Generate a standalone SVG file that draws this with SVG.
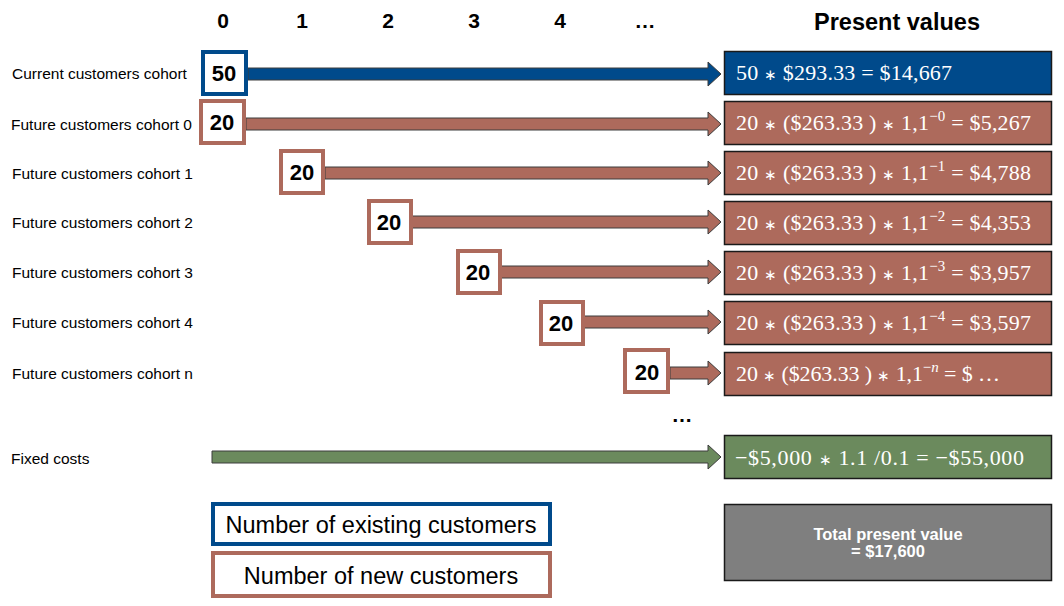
<svg xmlns="http://www.w3.org/2000/svg" width="1064" height="606" viewBox="0 0 1064 606">
<style>
.hdr{font-family:"Liberation Sans",Arial,sans-serif;font-weight:bold;font-size:21px;fill:#000;text-anchor:middle}
.lbl{font-family:"Liberation Sans",Arial,sans-serif;font-size:15.5px;fill:#000}
.num{font-family:"Liberation Sans",Arial,sans-serif;font-weight:bold;font-size:22px;fill:#000;text-anchor:middle}
.sb{fill:#fff;stroke-width:4}
.blue{stroke:#004a8b}
.brown{stroke:#ad6a5c}
.pv{stroke:#1a1a1a;stroke-width:1.5}
.f{font-family:"Liberation Serif","Times New Roman",serif;font-size:22px;fill:#fff}
.sup{font-size:15px}
.ast{font-size:15px}
.arr{stroke:#3c3c3c;stroke-width:1}
.leg{font-family:"Liberation Sans",Arial,sans-serif;font-size:23.5px;fill:#000;text-anchor:middle}
.tot{font-family:"Liberation Sans",Arial,sans-serif;font-weight:bold;font-size:16.5px;fill:#fff;text-anchor:middle}
</style>

<g id="header">
<text class="hdr" x="223" y="28">0</text>
<text class="hdr" x="302" y="28">1</text>
<text class="hdr" x="388" y="28">2</text>
<text class="hdr" x="474" y="28">3</text>
<text class="hdr" x="560" y="28">4</text>
<text class="hdr" x="645" y="28">…</text>
<text class="hdr" x="897" y="30" style="font-size:23.5px">Present values</text>
</g>

<g id="row-labels">
<text class="lbl" x="12" y="79">Current customers cohort</text>
<text class="lbl" x="11" y="130">Future customers cohort 0</text>
<text class="lbl" x="12" y="179">Future customers cohort 1</text>
<text class="lbl" x="12" y="228">Future customers cohort 2</text>
<text class="lbl" x="12" y="278">Future customers cohort 3</text>
<text class="lbl" x="12" y="328">Future customers cohort 4</text>
<text class="lbl" x="12" y="379">Future customers cohort n</text>
<text class="lbl" x="11" y="464">Fixed costs</text>
</g>

<g id="connectors">
<path class="arr" fill="#004a8b" d="M248 68 H708 V62 L721 74 L708 86 V80 H248 Z"/>
<path class="arr" fill="#ad6a5c" d="M246 118 H708 V112 L721 124 L708 136 V130 H246 Z"/>
<path class="arr" fill="#ad6a5c" d="M325 167 H708 V161 L721 173 L708 185 V179 H325 Z"/>
<path class="arr" fill="#ad6a5c" d="M411 216 H708 V210 L721 222 L708 234 V228 H411 Z"/>
<path class="arr" fill="#ad6a5c" d="M500 266 H708 V260 L721 272 L708 284 V278 H500 Z"/>
<path class="arr" fill="#ad6a5c" d="M583 316 H708 V310 L721 322 L708 334 V328 H583 Z"/>
<path class="arr" fill="#ad6a5c" d="M670 367 H708 V361 L721 373 L708 385 V379 H670 Z"/>
<path class="arr" fill="#6b8a5d" d="M212 451 H708 V445 L721 457 L708 469 V463 H212 Z"/>
</g>

<g id="n-current">
<rect class="sb blue" x="203" y="52" width="43" height="42"/>
<text class="num" x="224" y="81">50</text>
</g>
<g id="n-cohort0">
<rect class="sb brown" x="201" y="101" width="43" height="42"/>
<text class="num" x="222" y="130">20</text>
</g>
<g id="n-cohort1">
<rect class="sb brown" x="281" y="151" width="42" height="42"/>
<text class="num" x="302" y="180">20</text>
</g>
<g id="n-cohort2">
<rect class="sb brown" x="369" y="201" width="42" height="42"/>
<text class="num" x="389" y="230">20</text>
</g>
<g id="n-cohort3">
<rect class="sb brown" x="458" y="251" width="42" height="42"/>
<text class="num" x="478" y="280">20</text>
</g>
<g id="n-cohort4">
<rect class="sb brown" x="541" y="302" width="42" height="42"/>
<text class="num" x="561" y="331">20</text>
</g>
<g id="n-cohortn">
<rect class="sb brown" x="625" y="350" width="43" height="42"/>
<text class="num" x="647" y="380">20</text>
</g>

<g id="pv-current">
<rect class="pv" x="724.5" y="51.5" width="327" height="43" fill="#004a8b"/>
<text class="f" x="736" y="80" textLength="216" lengthAdjust="spacing">50 <tspan class="ast">∗</tspan> $293.33 = $14,667</text>
</g>
<g id="pv-cohort0">
<rect class="pv" x="724.5" y="101.5" width="327" height="43" fill="#ad6a5c"/>
<text class="f" x="736" y="130" textLength="295" lengthAdjust="spacing">20 <tspan class="ast">∗</tspan> ($263.33 ) <tspan class="ast">∗</tspan> 1,1<tspan class="sup" dy="-9">−0</tspan><tspan dy="9"> = $5,267</tspan></text>
</g>
<g id="pv-cohort1">
<rect class="pv" x="724.5" y="151.5" width="327" height="43" fill="#ad6a5c"/>
<text class="f" x="736" y="180" textLength="295" lengthAdjust="spacing">20 <tspan class="ast">∗</tspan> ($263.33 ) <tspan class="ast">∗</tspan> 1,1<tspan class="sup" dy="-9">−1</tspan><tspan dy="9"> = $4,788</tspan></text>
</g>
<g id="pv-cohort2">
<rect class="pv" x="724.5" y="201.5" width="327" height="43" fill="#ad6a5c"/>
<text class="f" x="736" y="230" textLength="295" lengthAdjust="spacing">20 <tspan class="ast">∗</tspan> ($263.33 ) <tspan class="ast">∗</tspan> 1,1<tspan class="sup" dy="-9">−2</tspan><tspan dy="9"> = $4,353</tspan></text>
</g>
<g id="pv-cohort3">
<rect class="pv" x="724.5" y="251.5" width="327" height="43" fill="#ad6a5c"/>
<text class="f" x="736" y="280" textLength="295" lengthAdjust="spacing">20 <tspan class="ast">∗</tspan> ($263.33 ) <tspan class="ast">∗</tspan> 1,1<tspan class="sup" dy="-9">−3</tspan><tspan dy="9"> = $3,957</tspan></text>
</g>
<g id="pv-cohort4">
<rect class="pv" x="724.5" y="301.5" width="327" height="43" fill="#ad6a5c"/>
<text class="f" x="736" y="330" textLength="295" lengthAdjust="spacing">20 <tspan class="ast">∗</tspan> ($263.33 ) <tspan class="ast">∗</tspan> 1,1<tspan class="sup" dy="-9">−4</tspan><tspan dy="9"> = $3,597</tspan></text>
</g>
<g id="pv-cohortn">
<rect class="pv" x="724.5" y="352.5" width="327" height="43" fill="#ad6a5c"/>
<text class="f" x="736" y="381" textLength="264" lengthAdjust="spacing">20 <tspan class="ast">∗</tspan> ($263.33 ) <tspan class="ast">∗</tspan> 1,1<tspan class="sup" dy="-9">−<tspan font-style="italic">n</tspan></tspan><tspan dy="9"> = $ …</tspan></text>
</g>

<g id="ellipsis">
<text class="hdr" x="682" y="422">…</text>
</g>

<g id="pv-fixed">
<rect class="pv" x="724.5" y="435.5" width="327" height="43" fill="#6b8a5d"/>
<text class="f" x="735" y="465" textLength="289" lengthAdjust="spacing">−$5,000  <tspan class="ast">∗</tspan> 1.1 /0.1 = −$55,000</text>
</g>

<g id="total">
<rect class="pv" x="724.5" y="504.5" width="327" height="76" fill="#7f7f7f"/>
<text class="tot" x="888" y="540">Total present value</text>
<text class="tot" x="888" y="557">= $17,600</text>
</g>

<g id="legend-existing">
<rect class="sb blue" x="213" y="504" width="337" height="40"/>
<text class="leg" x="381" y="533">Number of existing customers</text>
</g>
<g id="legend-new">
<rect class="sb brown" x="213" y="553" width="337" height="43"/>
<text class="leg" x="381" y="584">Number of new customers</text>
</g>
</svg>
